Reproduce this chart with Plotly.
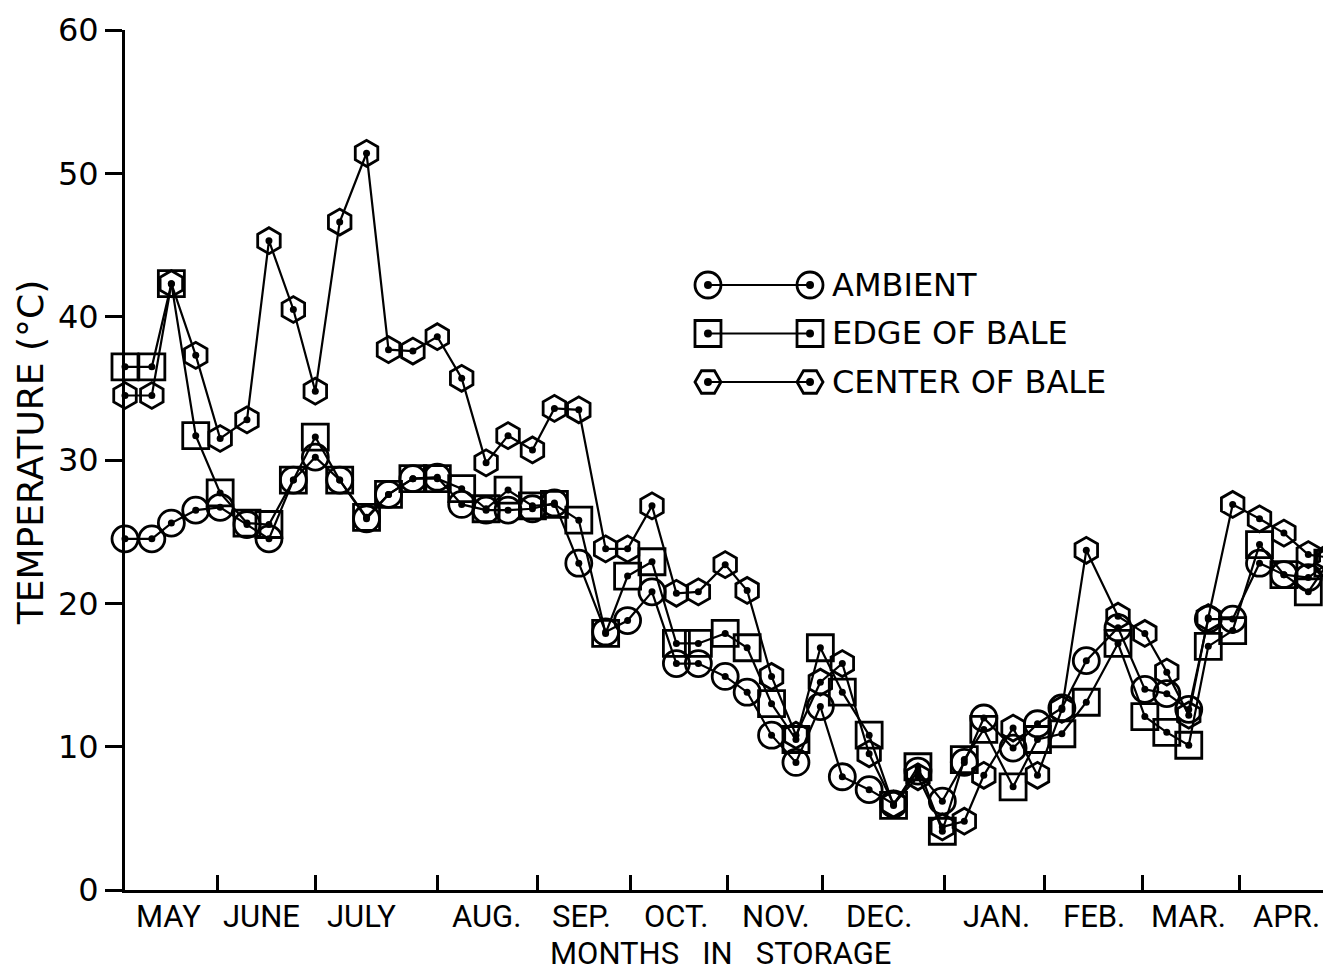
import plotly.graph_objects as go

# ---- data (x in weeks of storage) ----
weeks = [0.0, 1.1, 1.9, 2.9, 3.9, 5.0, 5.9, 6.9, 7.8, 8.8, 9.9, 10.8, 11.8, 12.8,
         13.8, 14.8, 15.7, 16.7, 17.6, 18.6, 19.7, 20.6, 21.6, 22.6, 23.5, 24.6,
         25.5, 26.5, 27.5, 28.5, 29.4, 30.5, 31.5, 32.5, 33.5, 34.4, 35.2, 36.4,
         37.4, 38.4, 39.4, 40.7, 41.8, 42.7, 43.6, 44.4, 45.4, 46.5, 47.5, 48.5, 49.3]

ambient = [24.5, 24.5, 25.6, 26.5, 26.7, 25.5, 24.5, 28.6, 30.2, 28.6, 25.9, 27.6,
           28.7, 28.8, 26.9, 26.5, 26.5, 26.6, 27.0, 22.8, 18.0, 18.8, 20.8, 15.8,
           15.8, 14.9, 13.8, 10.8, 8.9, 12.8, 7.9, 7.0, 6.0, 8.3, 6.2, 8.9, 12.0,
           9.9, 11.6, 12.7, 16.0, 18.3, 14.0, 13.7, 12.6, 18.9, 18.9, 22.8, 22.0,
           21.8, 22.8]

edge = [36.5, 36.5, 42.3, 31.7, 27.7, 25.6, 25.5, 28.6, 31.6, 28.6, 26.0, 27.6,
        28.7, 28.7, 28.0, 26.6, 27.9, 26.8, 26.9, 25.8, 17.9, 21.9, 22.9, 17.2,
        17.2, 17.9, 16.9, 13.0, 10.5, 16.9, 13.8, 10.8, 5.9, 8.6, 4.1, 9.1, 11.2,
        7.2, 10.5, 10.9, 13.1, 17.2, 12.1, 11.0, 10.1, 17.0, 18.1, 24.1, 22.0,
        20.8, 22.8]

center = [34.5, 34.5, 42.3, 37.3, 31.5, 32.8, 45.3, 40.5, 34.8, 46.6, 51.4, 37.7,
          37.6, 38.6, 35.7, 29.8, 31.7, 30.7, 33.6, 33.5, 23.8, 23.8, 26.8, 20.7,
          20.8, 22.7, 20.9, 14.9, 10.8, 14.5, 15.8, 9.5, 6.0, 7.9, 4.4, 4.8, 8.0,
          11.3, 8.0, 12.6, 23.7, 19.1, 17.9, 15.2, 12.2, 19.0, 26.9, 25.9, 24.9,
          23.4, 23.2]

month_bounds = [3.8, 7.8, 12.8, 16.9, 20.7, 24.7, 28.6, 33.6, 37.7, 41.7, 45.7]
month_names = ["MAY", "JUNE", "JULY", "AUG.", "SEP.", "OCT.", "NOV.", "DEC.",
               "JAN.", "FEB.", "MAR.", "APR."]
month_label_pos = [1.8, 5.6, 9.7, 14.8, 18.7, 22.6, 26.7, 30.9, 35.7, 39.7, 43.6, 47.6]

y_ticks = [0, 10, 20, 30, 40, 50, 60]

legend_names = ["AMBIENT", "EDGE OF BALE", "CENTER OF BALE"]

# ---- figure ----
fig = go.Figure()

series = [
    (center, "hexagon-open"),
    (edge, "square-open"),
    (ambient, "circle-open"),
]
for vals, sym in series:
    fig.add_trace(go.Scatter(
        x=weeks, y=vals, mode="lines+markers",
        line=dict(color="black", width=2.2),
        marker=dict(symbol=sym, size=26, color="black", line=dict(width=2.8, color="black")),
        cliponaxis=False, showlegend=False, hoverinfo="skip"))
    fig.add_trace(go.Scatter(
        x=weeks, y=vals, mode="markers",
        marker=dict(symbol="circle", size=7, color="black"),
        cliponaxis=False, showlegend=False, hoverinfo="skip"))

# custom legend (marker — line — marker) on its own small axes
legend_syms = ["circle-open", "square-open", "hexagon2-open"]
legend_rows = [2, 1, 0]
for name, sym, r in zip(legend_names, legend_syms, legend_rows):
    fig.add_trace(go.Scatter(
        x=[0, 1], y=[r, r], xaxis="x2", yaxis="y2", mode="lines+markers",
        line=dict(color="black", width=2.2),
        marker=dict(symbol=sym, size=26, color="black", line=dict(width=2.8, color="black")),
        cliponaxis=False, showlegend=False, hoverinfo="skip"))
    fig.add_trace(go.Scatter(
        x=[0, 1], y=[r, r], xaxis="x2", yaxis="y2", mode="markers",
        marker=dict(symbol="circle", size=8, color="black"),
        cliponaxis=False, showlegend=False, hoverinfo="skip"))

annotations = []
for name, r in zip(legend_names, legend_rows):
    annotations.append(dict(
        text=name, x=1, y=r, xref="x2", yref="y2", xanchor="left", yanchor="middle",
        xshift=20, showarrow=False,
        font=dict(family="DejaVu Sans", size=32, color="black")))

for name, pos in zip(month_names, month_label_pos):
    annotations.append(dict(
        text=name, x=pos, y=0, xref="x", yref="paper", xanchor="center", yanchor="middle",
        yshift=-26, showarrow=False,
        font=dict(family="Roboto", size=31, color="black")))

annotations.append(dict(
    text="MONTHS\u00a0\u00a0\u00a0IN\u00a0\u00a0\u00a0STORAGE", x=0.4934, y=0, xref="paper", yref="paper",
    xanchor="center", yanchor="middle", yshift=-63, showarrow=False,
    font=dict(family="Roboto", size=31, color="black")))

annotations.append(dict(
    text="TEMPERATURE (°C)", x=-0.0788, y=0.509, xref="paper", yref="paper",
    xanchor="center", yanchor="middle", textangle=-90, showarrow=False,
    font=dict(family="DejaVu Sans", size=36, color="black")))

# page body has an 8px margin: the figure starts at (8, 8) and fills to the window edge
fig.update_layout(
    width=1323, height=964,
    margin=dict(l=117, r=0, t=22, b=82),
    paper_bgcolor="white", plot_bgcolor="white",
    showlegend=False,
    annotations=annotations,
    xaxis=dict(
        range=[0, 49.43], showgrid=False, zeroline=False,
        showline=True, linecolor="black", linewidth=3,
        ticks="inside", ticklen=15, tickwidth=2.5, tickcolor="black",
        tickvals=month_bounds, showticklabels=False),
    yaxis=dict(
        range=[0, 60], showgrid=False, zeroline=False,
        showline=True, linecolor="black", linewidth=3,
        ticks="outside", ticklen=17, tickwidth=2.5, tickcolor="black",
        tickvals=y_ticks, ticktext=[str(v) for v in y_ticks],
        tickfont=dict(family="DejaVu Sans", size=32, color="black")),
    xaxis2=dict(domain=[0.4834, 0.5680], range=[0, 1], anchor="y2", visible=False),
    yaxis2=dict(domain=[0.5625, 0.7317], range=[-0.5, 2.5], anchor="x2", visible=False),
)

fig.write_html("out.html")
